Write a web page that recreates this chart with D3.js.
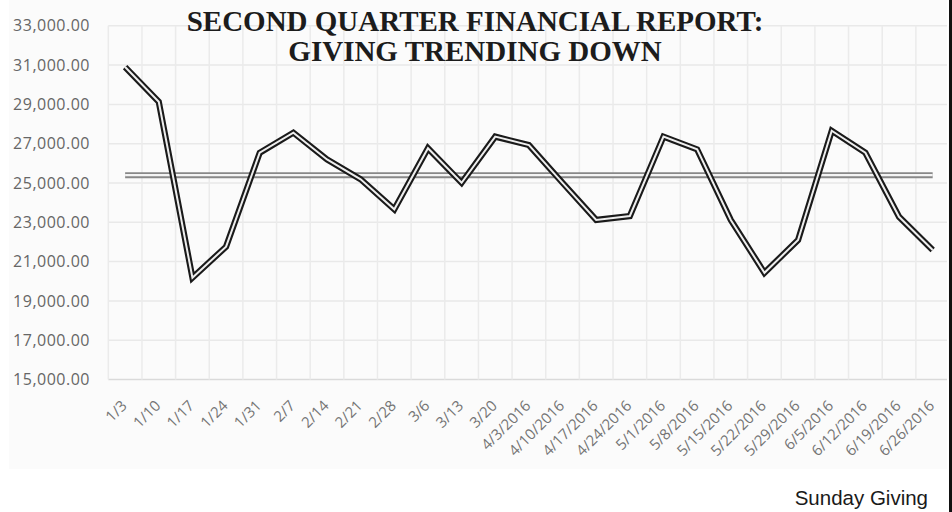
<!DOCTYPE html>
<html lang="en">
<head>
<meta charset="utf-8"/>
<title>Sunday Giving</title>
<script src="https://cdnjs.cloudflare.com/ajax/libs/d3/7.8.5/d3.min.js"></script>
<style>
  body { margin: 0; background: #fff; }
  svg { display: block; }
  .ylab { font-family: "Open Sans", sans-serif; font-size: 16px; letter-spacing: 0.5px; fill: #666; }
  .xlab { font-family: "Open Sans", sans-serif; font-size: 15px; fill: #747474; }
  .title { font-family: "Liberation Serif", serif; font-weight: bold; font-size: 29px; fill: #1c1c1c; }
  .caption { font-family: "Liberation Sans", sans-serif; font-size: 20.5px; fill: #1a1a1a; }
</style>
</head>
<body>
<div id="chart"></div>
<script>
// sunday dates (category labels)
var weeks = ["1/3","1/10","1/17","1/24","1/31","2/7","2/14","2/21","2/28","3/6","3/13","3/20",
  "4/3/2016","4/10/2016","4/17/2016","4/24/2016","5/1/2016","5/8/2016","5/15/2016","5/22/2016",
  "5/29/2016","6/5/2016","6/12/2016","6/19/2016","6/26/2016"];
// giving per sunday
var giving = [30900,29130,20180,21760,26540,27560,26200,25190,23660,26770,25010,27360,
  26930,25010,23120,23320,27360,26710,23120,20430,22100,27660,26540,23280,21590];
// the flat average line
var average = 25400;
var yTicks = [15000,17000,19000,21000,23000,25000,27000,29000,31000,33000];
var titleLines = ["SECOND QUARTER FINANCIAL REPORT:", "GIVING TRENDING DOWN"];

var W = 952, H = 512;
var mLeft = 108.3, mRight = 949.5, mTop = 25.8, mBottom = 379.5;

var svg = d3.select("#chart").append("svg").attr("width", W).attr("height", H);

// faint panel behind the chart
svg.append("rect").attr("x", 9).attr("y", 0).attr("width", 938).attr("height", 469)
  .attr("fill", "#fbfbfb");

var x = d3.scaleBand().domain(weeks).range([mLeft, mRight]).padding(0);
var y = d3.scaleLinear().domain([15000, 33000]).range([mBottom, mTop]);

// gridlines
var grid = svg.append("g");
grid.selectAll("line.h").data(yTicks).enter().append("line")
  .attr("x1", mLeft).attr("x2", 947)
  .attr("y1", d => y(d)).attr("y2", d => y(d))
  .attr("stroke", d => d == 15000 ? "#dadada" : "#e9e9e9").attr("stroke-width", 1.5);
var bounds = weeks.map(d => x(d)).concat([mRight]);
grid.selectAll("line.v").data(bounds).enter().append("line")
  .attr("x1", d => d).attr("x2", d => d)
  .attr("y1", mTop).attr("y2", mBottom)
  .attr("stroke", "#ebebeb").attr("stroke-width", 1.5);

// y labels
svg.append("g").selectAll("text").data(yTicks).enter().append("text")
  .attr("class", "ylab")
  .attr("x", 90).attr("y", d => y(d)).attr("dy", "0.35em")
  .attr("text-anchor", "end")
  .text(d => d3.format(",.2f")(d));

// x labels, slanted
svg.append("g").selectAll("text").data(weeks).enter().append("text")
  .attr("class", "xlab")
  .attr("text-anchor", "end")
  .attr("transform", d => "translate(" + (x(d) + x.bandwidth() / 2 - 1) + ",403) rotate(-45)")
  .attr("dy", "0.35em")
  .text(d => d);

var cx = d => x(d) + x.bandwidth() / 2;

// average line (double)
var avgLine = d3.line()([[cx(weeks[0]), y(average)], [cx(weeks[weeks.length - 1]), y(average)]]);
svg.append("path").attr("d", avgLine).attr("stroke", "#888").attr("stroke-width", 6).attr("fill", "none");
svg.append("path").attr("d", avgLine).attr("stroke", "#f4f4f4").attr("stroke-width", 2.2).attr("fill", "none");

// giving line (double)
var line = d3.line().x((d, i) => cx(weeks[i])).y(d => y(d));
svg.append("path").datum(giving).attr("d", line)
  .attr("stroke", "#1a1a1a").attr("stroke-width", 6.2).attr("fill", "none")
  .attr("stroke-linejoin", "miter");
svg.append("path").datum(giving).attr("d", line)
  .attr("stroke", "#eeeeee").attr("stroke-width", 2).attr("fill", "none")
  .attr("stroke-linejoin", "miter");

// title
svg.append("g").selectAll("text").data(titleLines).enter().append("text")
  .attr("class", "title")
  .attr("x", 475).attr("y", (d, i) => 31 + i * 30)
  .attr("text-anchor", "middle")
  .text(d => d);

// caption
svg.append("text").attr("class", "caption")
  .attr("x", 928).attr("y", 505).attr("text-anchor", "end")
  .text("Sunday Giving");

// right border
svg.append("line").attr("x1", 950.5).attr("x2", 950.5).attr("y1", 0).attr("y2", H)
  .attr("stroke", "#111").attr("stroke-width", 3);
</script>
</body>
</html>
